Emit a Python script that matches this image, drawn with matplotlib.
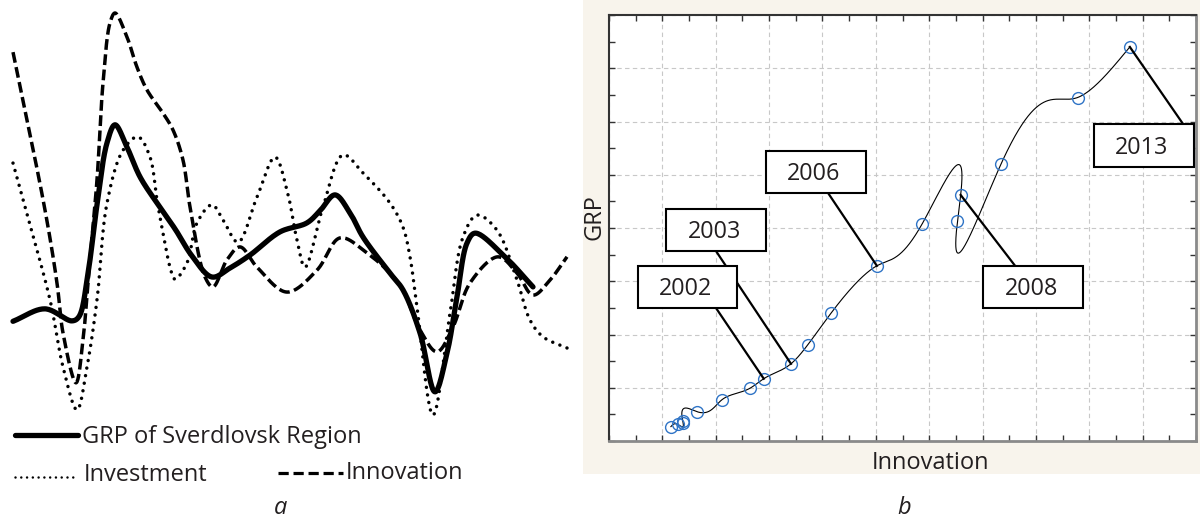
import numpy as np
import matplotlib.pyplot as plt
from matplotlib.lines import Line2D
from matplotlib.patches import Rectangle

plt.rcParams['font.family'] = ['Open Sans', 'DejaVu Sans']
TXT = '#231f20'

# ---- panel a: smoothed series (time position, relative level)
t_grp = [0.325, 1.125, 1.8, 1.975, 2.2, 2.425, 2.675, 2.875, 3.175, 3.5, 3.925, 4.375,
         4.8, 5.3, 5.75, 6.25, 7.0, 7.675, 8.0, 8.375, 8.75, 9.075, 9.75, 10.075,
         10.5, 10.875, 11.175, 11.425, 11.675, 11.875, 12.625, 13.325]
grp = [2.76, 3.05, 2.77, 2.87, 3.88, 5.47, 6.91, 7.33, 6.81, 6.12, 5.51, 4.91,
       4.28, 3.79, 4.0, 4.30, 4.84, 5.05, 5.33, 5.70, 5.28, 4.72, 3.88, 3.49,
       2.49, 1.12, 2.02, 3.33, 4.58, 4.81, 4.26, 3.56]

t_inv = [0.325, 0.625, 1.25, 1.575, 1.925, 2.175, 2.425, 2.675, 3.075, 3.45, 3.75, 3.925,
         4.075, 4.25, 4.375, 4.675, 4.925, 5.3, 5.575, 5.95, 6.425, 6.875, 7.175, 7.425,
         7.625, 8.075, 8.575, 9.075, 9.75, 10.075, 10.25, 10.425, 10.825, 11.25, 11.575,
         11.925, 12.425, 12.925, 13.25, 13.575, 14.175]
inv = [6.44, 5.42, 3.26, 1.70, 0.70, 1.70, 3.26, 5.51, 6.74, 7.05, 6.58, 5.58,
       4.81, 4.02, 3.74, 4.12, 5.05, 5.47, 5.12, 4.60, 5.65, 6.58, 5.81, 4.65,
       4.02, 5.42, 6.63, 6.21, 5.51, 4.95, 4.26, 3.09, 0.58, 2.95, 4.72,
       5.23, 4.88, 3.72, 2.79, 2.40, 2.14]

t_inn = [0.325, 1.125, 1.425, 1.575, 1.9, 2.075, 2.2, 2.425, 2.575, 2.75, 2.875, 3.175,
         3.425, 3.675, 4.075, 4.325, 4.575, 4.75, 5.125, 5.325, 5.675, 6.0, 6.425, 7.175,
         7.925, 8.5, 9.175, 9.75, 10.075, 10.5, 10.925, 11.325, 11.75, 12.45, 12.925,
         13.325, 13.75, 14.175]
inn = [9.02, 5.35, 3.65, 2.49, 1.33, 2.33, 3.65, 6.05, 8.30, 9.70, 9.93, 9.37,
       8.67, 8.14, 7.60, 7.21, 6.51, 5.42, 3.79, 3.56, 4.19, 4.49, 4.02, 3.44,
       3.95, 4.70, 4.35, 3.88, 3.49, 2.56, 2.05, 2.63, 3.65, 4.26, 3.88,
       3.37, 3.72, 4.26]

# ---- panel b: GRP vs innovation, with year labels on some points
innovation = [1.16, 1.29, 1.39, 1.38, 1.65, 2.11, 2.64, 2.90, 3.41, 3.72, 4.16, 5.02,
              5.87, 6.59, 6.53, 7.35, 8.78, 9.76]
grp_b = [0.27, 0.31, 0.33, 0.38, 0.55, 0.77, 0.99, 1.17, 1.45, 1.80, 2.40, 3.29,
         4.08, 4.62, 4.13, 5.21, 6.45, 7.40]
label_years = ['2002', '2003', '2006', '2008', '2013']
label_points = [7, 8, 11, 13, 17]


def catmull_rom(x, y, n=24):
    p = np.column_stack([x, y]).astype(float)
    p = np.vstack([2 * p[0] - p[1], p, 2 * p[-1] - p[-2]])
    out = []
    for i in range(1, len(p) - 2):
        p0, p1, p2, p3 = p[i - 1], p[i], p[i + 1], p[i + 2]
        t0 = 0.0
        t1 = t0 + max(np.linalg.norm(p1 - p0), 1e-6) ** 0.5
        t2 = t1 + max(np.linalg.norm(p2 - p1), 1e-6) ** 0.5
        t3 = t2 + max(np.linalg.norm(p3 - p2), 1e-6) ** 0.5
        t = np.linspace(t1, t2, n)[:, None]
        a1 = (t1 - t) / (t1 - t0) * p0 + (t - t0) / (t1 - t0) * p1
        a2 = (t2 - t) / (t2 - t1) * p1 + (t - t1) / (t2 - t1) * p2
        a3 = (t3 - t) / (t3 - t2) * p2 + (t - t2) / (t3 - t2) * p3
        b1 = (t2 - t) / (t2 - t0) * a1 + (t - t0) / (t2 - t0) * a2
        b2 = (t3 - t) / (t3 - t1) * a2 + (t - t1) / (t3 - t1) * a3
        c = (t2 - t) / (t2 - t1) * b1 + (t - t1) / (t2 - t1) * b2
        out.append(c if i == len(p) - 3 else c[:-1])
    c = np.vstack(out)
    return c[:, 0], c[:, 1]


def natural_spline(t, v, tt):
    n = len(t)
    h = np.diff(t)
    A = np.zeros((n, n))
    r = np.zeros(n)
    A[0, 0] = A[-1, -1] = 1
    for i in range(1, n - 1):
        A[i, i - 1] = h[i - 1]
        A[i, i] = 2 * (h[i - 1] + h[i])
        A[i, i + 1] = h[i]
        r[i] = 6 * ((v[i + 1] - v[i]) / h[i] - (v[i] - v[i - 1]) / h[i - 1])
    M = np.linalg.solve(A, r)
    k = np.clip(np.searchsorted(t, tt) - 1, 0, n - 2)
    hh = t[k + 1] - t[k]
    a = t[k + 1] - tt
    b = tt - t[k]
    return (M[k] * a ** 3 / (6 * hh) + M[k + 1] * b ** 3 / (6 * hh)
            + (v[k] / hh - M[k] * hh / 6) * a + (v[k + 1] / hh - M[k + 1] * hh / 6) * b)


fig = plt.figure(figsize=(12, 5.23), dpi=100)

# ---------------- panel a
ax = fig.add_axes([0, 83 / 523, 580 / 1200, 430 / 523])
ax.set_xlim(0, 14.5)
ax.set_ylim(0, 10)
ax.axis('off')

xs, ys = catmull_rom(t_inv, inv)
ax.plot(xs, ys, color='black', lw=2.5, dashes=(0.01, 2.2), dash_capstyle='round')
xs, ys = catmull_rom(t_inn, inn)
ax.plot(xs, ys, color='black', lw=2.5, dashes=(3.1, 1.3))
xs, ys = catmull_rom(t_grp, grp)
ax.plot(xs, ys, color='black', lw=3.8, solid_capstyle='round')

# legend drawn by hand in figure pixels
def px(x, y):
    return x / 1200, 1 - y / 523

for (x0, x1, y), kw in [((15, 78, 435), dict(lw=3.8, solid_capstyle='round')),
                         ((15, 75, 477), dict(lw=1.8, dashes=(0.01, 2.3), dash_capstyle='round')),
                         ((278, 343, 473), dict(lw=2.3, dashes=(3.2, 1.5)))]:
    (a0, b0), (a1, b1) = px(x0, y), px(x1, y)
    fig.add_artist(Line2D([a0, a1], [b0, b1], color='black', **kw))

fig.text(*px(82, 437), 'GRP of Sverdlovsk Region', fontsize=17, color=TXT, va='center')
fig.text(*px(84, 475), 'Investment', fontsize=17, color=TXT, va='center')
fig.text(*px(346, 473), 'Innovation', fontsize=17, color=TXT, va='center')
fig.text(*px(281, 508), 'a', fontsize=17, style='italic', color=TXT, ha='center', va='center')

# ---------------- panel b
fig.add_artist(Rectangle((583 / 1200, 1 - 474 / 523), 1 - 583 / 1200, 474 / 523,
                         transform=fig.transFigure, facecolor='#f8f4ec', edgecolor='none', zorder=0))
fig.text(*px(904, 508), 'b', fontsize=17, style='italic', color=TXT, ha='center', va='center')

bx = fig.add_axes([609 / 1200, 1 - 441 / 523, 587 / 1200, 426 / 523])
bx.set_facecolor('white')
bx.set_xlim(0, 11)
bx.set_ylim(0, 8)
bx.xaxis.set_major_locator(plt.MultipleLocator(1))
bx.xaxis.set_minor_locator(plt.MultipleLocator(0.5))
bx.yaxis.set_major_locator(plt.MultipleLocator(1))
bx.yaxis.set_minor_locator(plt.MultipleLocator(0.5))
bx.tick_params(which='both', direction='in', length=4, width=1, color='#333333',
               top=True, right=True, labelbottom=False, labelleft=False)
bx.grid(which='major', color='#c8c8c8', lw=0.8, dashes=(4, 3))
for side in ['left', 'top']:
    bx.spines[side].set_color('#333333')
    bx.spines[side].set_linewidth(1.5)
for side in ['right', 'bottom']:
    bx.spines[side].set_color('#8a8a8a')
    bx.spines[side].set_linewidth(2)

# spline through the points in order; parameter is chord length with GRP compressed
xi = np.array(innovation)
yi = np.array(grp_b)
step = np.sqrt(np.diff(xi) ** 2 + (0.12 * np.diff(yi)) ** 2) + 1e-3
tk = np.concatenate([[0], np.cumsum(step)])
tt = np.linspace(0, tk[-1], 2000)
bx.plot(natural_spline(tk, xi, tt), natural_spline(tk, yi, tt), color='black', lw=0.8, zorder=3)
bx.plot(xi, yi, 'o', mfc='none', mec='#2f74c6', mew=1.0, ms=8.5, zorder=4)

# label boxes: centre (data units) and where the leader leaves the box
box_w, box_h = 1.87, 0.80
box_centres = [(1.47, 2.89), (2.01, 3.96), (3.88, 5.05), (7.95, 2.89), (10.02, 5.55)]
leader_dx = [0.54, 0.0, 0.23, -0.34, 0.74]
for year, k, (cx, cy), dx in zip(label_years, label_points, box_centres, leader_dx):
    px_, py_ = xi[k], yi[k]
    ey = cy - box_h / 2 if py_ < cy else cy + box_h / 2
    bx.plot([cx + dx, px_], [ey, py_], color='black', lw=1.6, zorder=5)
    bx.add_patch(Rectangle((cx - box_w / 2, cy - box_h / 2), box_w, box_h,
                           facecolor='white', edgecolor='black', lw=1.5, zorder=6))
    bx.text(cx - 0.04, cy - 0.04, year, fontsize=16.8, color=TXT, ha='center', va='center', zorder=7)

bx.set_xlabel('Innovation', fontsize=17, color=TXT, va='center')
bx.xaxis.set_label_coords((930 - 609) / 587, -22 / 426)
bx.set_ylabel('GRP', fontsize=17, color=TXT, va='center')
bx.yaxis.set_label_coords(-14 / 587, (441 - 217) / 426)

fig.savefig('out.png', dpi=100)
